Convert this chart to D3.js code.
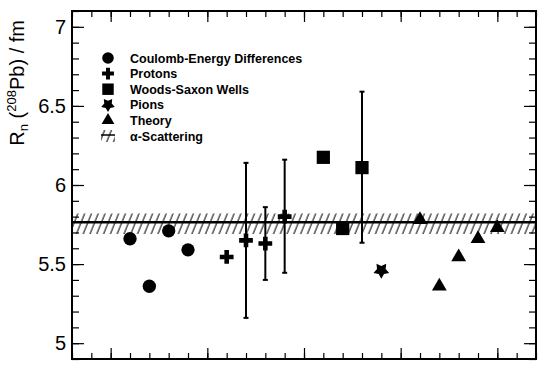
<!DOCTYPE html>
<html>
<head>
<meta charset="utf-8">
<script src="https://cdn.jsdelivr.net/npm/d3@7"></script>
<style>
  body { margin: 0; background: #fff; }
  text { font-family: "Liberation Sans", Arial, sans-serif; }
</style>
</head>
<body>
<svg></svg>
<script>
// data
const coulombX = [1, 2, 3, 4];
const coulombY = [5.66, 5.36, 5.71, 5.59];

const protonX = [6, 7, 8, 9];
const protonY = [5.545, 5.65, 5.63, 5.8];
const protonLo = [null, 5.16, 5.4, 5.445];
const protonHi = [null, 6.14, 5.86, 6.16];

const woodsX = [11, 12, 13];
const woodsY = [6.175, 5.725, 6.11];
const woodsLo = [null, null, 5.635];
const woodsHi = [null, null, 6.59];

const pionX = [14];
const pionY = [5.46];

const theoryX = [16, 17, 18, 19, 20];
const theoryY = [5.78, 5.36, 5.545, 5.66, 5.73];

const alphaValue = 5.765;
const alphaBand = [5.69, 5.82];

const yMajor = [5, 5.5, 6, 6.5, 7];
const legendLabels = ["Coulomb-Energy Differences", "Protons", "Woods-Saxon Wells", "Pions", "Theory", "α-Scattering"];

const size = { w: 552, h: 380 };
const frame = { l: 72, r: 536, t: 11, b: 359 };

const svg = d3.select("svg").attr("width", size.w).attr("height", size.h);

const x = d3.scaleLinear().domain([-2, 22]).range([frame.l, frame.r]);
const y = d3.scaleLinear().domain([4.9, 7.1]).range([frame.b, frame.t]);

// fat five-pointed star, like the pion marker
const fatStar = {
	draw(context, s) {
		const r = Math.sqrt(s / 2.2);
		const ri = r * 0.55;
		for (let i = 0; i < 10; i++) {
			const a = (i * Math.PI) / 5 - Math.PI / 2;
			const rr = i % 2 ? ri : r;
			if (i === 0) context.moveTo(rr * Math.cos(a), rr * Math.sin(a));
			else context.lineTo(rr * Math.cos(a), rr * Math.sin(a));
		}
		context.closePath();
	},
};

// hatch pattern for the alpha-scattering band
const defs = svg.append("defs");
defs.append("pattern")
	.attr("id", "hatch")
	.attr("patternUnits", "userSpaceOnUse")
	.attr("width", 6.3)
	.attr("height", 10)
	.attr("patternTransform", "rotate(22)")
	.append("line")
	.attr("x1", 1).attr("y1", 0).attr("x2", 1).attr("y2", 10)
	.attr("stroke", "#000").attr("stroke-width", 1);

// band + central value
svg.append("rect")
	.attr("x", frame.l).attr("width", frame.r - frame.l)
	.attr("y", y(alphaBand[1])).attr("height", y(alphaBand[0]) - y(alphaBand[1]))
	.attr("fill", "url(#hatch)");
svg.append("line")
	.attr("x1", frame.l).attr("x2", frame.r)
	.attr("y1", y(alphaValue)).attr("y2", y(alphaValue))
	.attr("stroke", "#000").attr("stroke-width", 2.5);

// axes (ticks pointing inwards)
const minorY = d3.range(49, 72).map((d) => d / 10);
const minorX = d3.range(-2, 23);
const majorX = [0, 5, 10, 15, 20];

function tickAxis(axis, tr) {
	const g = svg.append("g").attr("transform", tr).call(axis);
	g.select(".domain").remove();
	g.selectAll("line").attr("stroke", "#000").attr("stroke-width", 1.2);
	return g;
}

const yLabels = tickAxis(
	d3.axisLeft(y).tickValues(yMajor).tickSize(-12).tickPadding(6).tickFormat(d3.format("")),
	`translate(${frame.l},0)`
);
yLabels.selectAll("text").attr("font-size", 20).attr("fill", "#000").attr("font-family", "Liberation Sans, Arial");
tickAxis(d3.axisLeft(y).tickValues(minorY).tickSize(-7).tickFormat(""), `translate(${frame.l},0)`);
tickAxis(d3.axisRight(y).tickValues(yMajor).tickSize(-12).tickFormat(""), `translate(${frame.r},0)`);
tickAxis(d3.axisRight(y).tickValues(minorY).tickSize(-7).tickFormat(""), `translate(${frame.r},0)`);
tickAxis(d3.axisBottom(x).tickValues(majorX).tickSize(-11).tickFormat(""), `translate(0,${frame.b})`);
tickAxis(d3.axisBottom(x).tickValues(minorX).tickSize(-6).tickFormat(""), `translate(0,${frame.b})`);
tickAxis(d3.axisTop(x).tickValues(majorX).tickSize(-11).tickFormat(""), `translate(0,${frame.t})`);
tickAxis(d3.axisTop(x).tickValues(minorX).tickSize(-6).tickFormat(""), `translate(0,${frame.t})`);

svg.append("rect")
	.attr("x", frame.l).attr("y", frame.t)
	.attr("width", frame.r - frame.l).attr("height", frame.b - frame.t)
	.attr("fill", "none").attr("stroke", "#000").attr("stroke-width", 2);

// axis title
const title = svg.append("text")
	.attr("transform", `translate(24,20) rotate(-90)`)
	.attr("text-anchor", "end")
	.attr("font-size", 20)
	.attr("fill", "#000");
title.append("tspan").text("R");
title.append("tspan").attr("font-size", 13).attr("dy", 4).text("n");
title.append("tspan").attr("dy", -4).text(" (");
title.append("tspan").attr("font-size", 13).attr("dy", -8).text("208");
title.append("tspan").attr("dy", 8).text("Pb) / fm");

// error bars
function errorBars(xs, lo, hi) {
	const idx = xs.map((d, i) => i).filter((i) => lo[i] !== null);
	const g = svg.append("g").attr("stroke", "#000");
	g.selectAll("line.bar").data(idx).join("line")
		.attr("x1", (i) => x(xs[i])).attr("x2", (i) => x(xs[i]))
		.attr("y1", (i) => y(lo[i])).attr("y2", (i) => y(hi[i]))
		.attr("stroke-width", 2);
	[lo, hi].forEach((arr) => {
		g.selectAll(null).data(idx).join("line")
			.attr("x1", (i) => x(xs[i]) - 2.5).attr("x2", (i) => x(xs[i]) + 2.5)
			.attr("y1", (i) => y(arr[i])).attr("y2", (i) => y(arr[i]))
			.attr("stroke-width", 2);
	});
}
errorBars(protonX, protonLo, protonHi);
errorBars(woodsX, woodsLo, woodsHi);

// markers
const shapes = [
	{ type: d3.symbolCircle, size: 140, rot: 0, xs: coulombX, ys: coulombY },
	{ type: d3.symbolCross, size: 105, rot: 0, xs: protonX, ys: protonY },
	{ type: d3.symbolSquare, size: 175, rot: 0, xs: woodsX, ys: woodsY },
	{ type: fatStar, size: 150, rot: 180, xs: pionX, ys: pionY },
	{ type: d3.symbolTriangle, size: 95, rot: 0, xs: theoryX, ys: theoryY },
];

shapes.forEach((s) => {
	svg.append("g").selectAll("path")
		.data(s.xs.map((d, i) => [d, s.ys[i]]))
		.join("path")
		.attr("d", d3.symbol().type(s.type).size(s.size))
		.attr("transform", (d) => `translate(${x(d[0])},${y(d[1])}) rotate(${s.rot})`)
		.attr("fill", "#000");
});

// legend
const legend = svg.append("g").attr("transform", "translate(108,58)");
const rowH = 15.6;
legendLabels.forEach((label, i) => {
	const row = legend.append("g").attr("transform", `translate(0,${i * rowH})`);
	if (i < shapes.length) {
		row.append("path")
			.attr("d", d3.symbol().type(shapes[i].type).size(shapes[i].size * 0.75))
			.attr("transform", `rotate(${shapes[i].rot})`)
			.attr("fill", "#000");
	} else {
		row.append("rect").attr("x", -7).attr("y", -6).attr("width", 14).attr("height", 12)
			.attr("fill", "url(#hatch)");
		row.append("line").attr("x1", -7).attr("x2", 7).attr("y1", -1).attr("y2", -1)
			.attr("stroke", "#000").attr("stroke-width", 1.5);
	}
	row.append("text")
		.attr("x", 22).attr("y", 4.5)
		.attr("font-size", 12.5).attr("font-weight", "bold")
		.attr("fill", "#000")
		.text(label);
});
</script>
</body>
</html>
